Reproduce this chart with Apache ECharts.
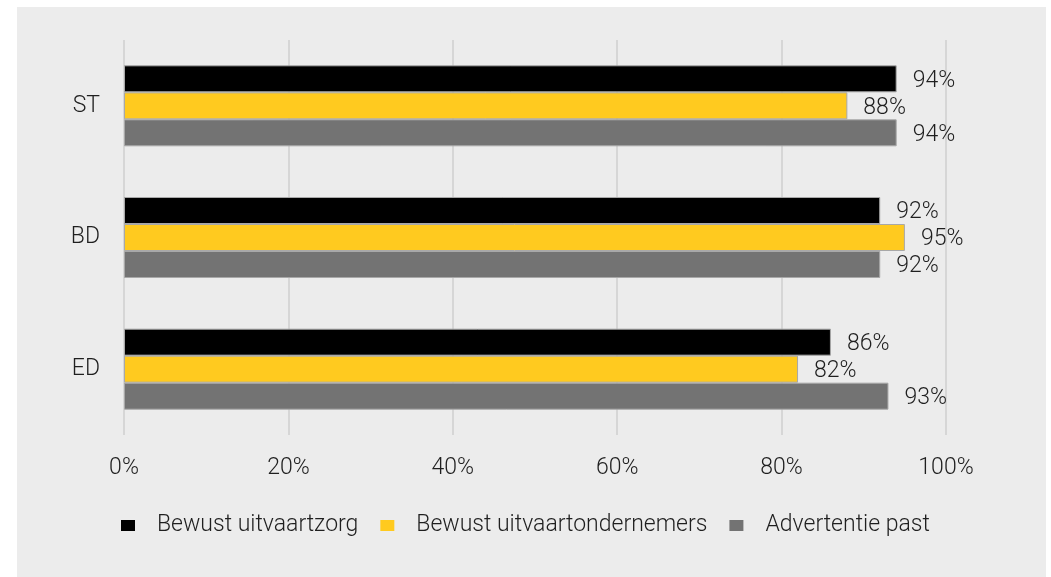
<!DOCTYPE html>
<html>
<head>
<meta charset="utf-8">
<script src="https://cdn.jsdelivr.net/npm/echarts@6/dist/echarts.min.js"></script>
<style>
  html, body { margin: 0; padding: 0; background: #ffffff; }
  #chart {
    position: absolute;
    left: 0; top: 0;
    width: 1051px; height: 577px;
  }
  .bg {
    position: absolute;
    left: 17px; top: 7px;
    width: 1029px; height: 570px;
    background: #ececec;
  }
</style>
</head>
<body>
<div class="bg"></div>
<div id="chart"></div>
<script>
const categories = ["ST", "BD", "ED"];
const seriesNames = ["Bewust uitvaartzorg", "Bewust uitvaartondernemers", "Advertentie past"];
const uitvaartzorg = [94, 92, 86];
const ondernemers = [88, 95, 82];
const advertentie = [94, 92, 93];
const xTicks = [0, 20, 40, 60, 80, 100];

const colors = ["#000000", "#ffca1f", "#737373"];
const font = "Roboto";
const textColor = "#1f1f1f";

const chart = echarts.init(document.getElementById("chart"));

function bar(name, data, color) {
  return {
    name: name,
    type: "bar",
    data: data,
    barWidth: 27,
    barGap: "0%",
    itemStyle: { color: color, borderColor: "#a8a8a8", borderWidth: 1 },
    label: {
      show: true,
      position: "right",
      distance: 16,
      offset: [0, 2],
      formatter: "{c}%",
      color: textColor,
      fontFamily: font,
      fontWeight: 300,
      fontSize: 23,
    },
  };
}

chart.setOption({
  animation: false,
  backgroundColor: "transparent",
  grid: { left: 124, right: 105, top: 40, bottom: 142, containLabel: false },
  xAxis: {
    type: "value",
    min: xTicks[0],
    max: xTicks[xTicks.length - 1],
    interval: 20,
    axisLine: { show: false },
    axisTick: { show: false },
    axisLabel: {
      formatter: "{value}%",
      margin: 22,
      color: textColor,
      fontFamily: font,
      fontWeight: 300,
      fontSize: 23,
    },
    splitLine: { show: true, lineStyle: { color: "#d6d6d6", width: 2 } },
  },
  yAxis: {
    type: "category",
    data: categories,
    inverse: true,
    axisLine: { show: false },
    axisTick: { show: false },
    axisLabel: {
      margin: 24,
      color: textColor,
      fontFamily: font,
      fontWeight: 300,
      fontSize: 23,
    },
  },
  legend: {
    data: seriesNames,
    left: 116,
    top: 509,
    itemWidth: 14,
    itemHeight: 11,
    itemGap: 22,
    icon: "rect",
    itemStyle: { borderWidth: 0 },
    textStyle: {
      color: textColor,
      fontFamily: font,
      fontWeight: 300,
      fontSize: 23,
      padding: [0, 0, 0, 17],
    },
  },
  series: [
    bar(seriesNames[0], uitvaartzorg, colors[0]),
    bar(seriesNames[1], ondernemers, colors[1]),
    bar(seriesNames[2], advertentie, colors[2]),
  ],
});
</script>
</body>
</html>
